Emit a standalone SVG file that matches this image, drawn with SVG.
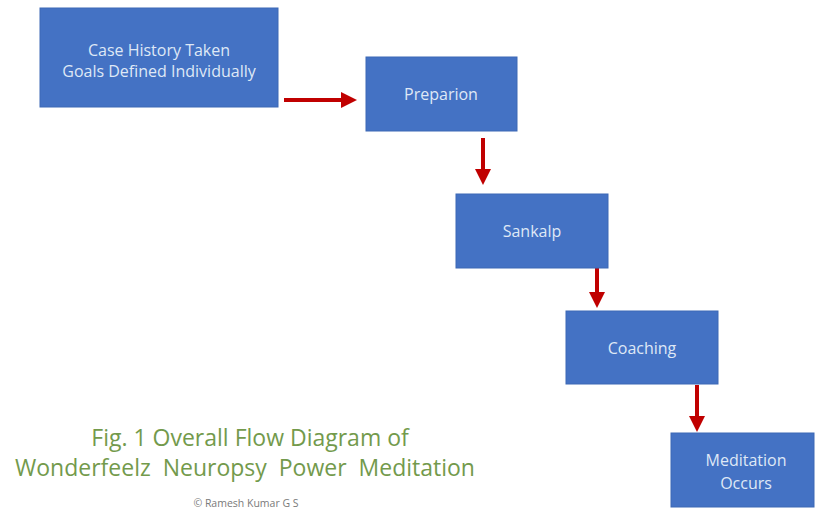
<svg xmlns="http://www.w3.org/2000/svg" width="815" height="512" viewBox="0 0 815 512">
<style>
.box{fill:#4472c4;stroke:#3d69b5;stroke-width:1}
.lbl{font-family:"Open Sans","Liberation Sans",sans-serif;font-size:16px;fill:#dfe8f6;text-anchor:middle}
.con{stroke:#c00000;stroke-width:4;fill:none;marker-end:url(#ah)}
.cap{font-family:"Open Sans","Liberation Sans",sans-serif;fill:#739a4c;text-anchor:middle}
.copy{font-family:"Open Sans","Liberation Sans",sans-serif;fill:#7a7a7a;text-anchor:middle;font-size:10.5px}
</style>
<defs>
<marker id="ah" markerWidth="4" markerHeight="4" refX="2" refY="2" orient="auto" markerUnits="strokeWidth">
<path d="M0,0 L4,2 L0,4 z" fill="#c00000"/>
</marker>
</defs>
<rect width="815" height="512" fill="#ffffff"/>
<g id="connectors">
<line class="con" x1="284" y1="100" x2="349" y2="100"/>
<line class="con" x1="483" y1="138" x2="483" y2="177"/>
<line class="con" x1="597" y1="268" x2="597" y2="300"/>
<line class="con" x1="697" y1="385" x2="697" y2="424"/>
</g>
<g id="n1">
<rect class="box" x="40" y="8" width="238" height="99"/>
<text class="lbl" x="159" y="56">Case History Taken</text>
<text class="lbl" x="159" y="77">Goals Defined Individually</text>
</g>
<g id="n2">
<rect class="box" x="366" y="57" width="151" height="74"/>
<text class="lbl" x="441" y="100">Preparion</text>
</g>
<g id="n3">
<rect class="box" x="456" y="194" width="152" height="74"/>
<text class="lbl" x="532" y="237">Sankalp</text>
</g>
<g id="n4">
<rect class="box" x="566" y="311" width="152" height="73"/>
<text class="lbl" x="642" y="354">Coaching</text>
</g>
<g id="n5">
<rect class="box" x="671" y="433" width="143" height="74"/>
<text class="lbl" x="746" y="466">Meditation</text>
<text class="lbl" x="746" y="489">Occurs</text>
</g>
<g id="caption">
<text class="cap" x="250" y="446" font-size="23">Fig. 1 Overall Flow Diagram of</text>
<text class="cap" x="245" y="476" font-size="23" xml:space="preserve">Wonderfeelz  Neuropsy  Power  Meditation</text>
<text class="copy" x="246" y="507">© Ramesh Kumar G S</text>
</g>
</svg>
